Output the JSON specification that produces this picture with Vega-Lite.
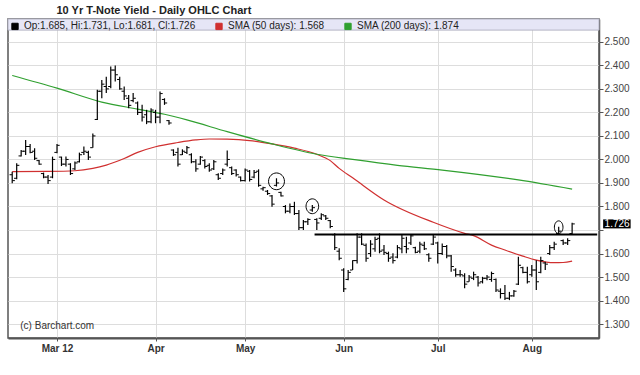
{
  "$schema": "https://vega.github.io/schema/vega-lite/v6.json",
  "width": 591,
  "height": 319,
  "autosize": {"type": "none"},
  "padding": {"left": 8, "top": 19, "right": 41, "bottom": 37},
  "background": "white",
  "title": {"text": "10 Yr T-Note Yield - Daily OHLC Chart", "anchor": "start", "dx": 49, "offset": 3, "fontSize": 11, "font": "Liberation Sans", "fontWeight": "bold", "color": "#222222"},
  "config": {"view": {"stroke": "#555555", "strokeWidth": 1.5}, "font": "Liberation Sans",
    "axis": {"labelOverlap": false, "title": null}},
  "datasets": {
    "band": [{"x1": -0.94, "x2": 131, "y1": 2.5498, "y2": 2.597}],
    "credit": [{"day": 1.8, "value": 1.291, "text": "(c) Barchart.com"}],
    "level": [{"day": 67.5, "day2": 130.6, "value": 1.681}],
    "price": [{"day": 125, "close": 1.726, "label": "1.726"}],
    "notes": [{"id": "A", "day": 59, "value": 1.907}, {"id": "B", "day": 67, "value": 1.801}, {"id": "C", "day": 122, "value": 1.712}],
    "sma": [
      {"day": 0, "series": "SMA (50 days): 1.568", "value": 1.948},
      {"day": 8, "series": "SMA (50 days): 1.568", "value": 1.949},
      {"day": 14, "series": "SMA (50 days): 1.568", "value": 1.952},
      {"day": 18, "series": "SMA (50 days): 1.568", "value": 1.962},
      {"day": 21, "series": "SMA (50 days): 1.568", "value": 1.976},
      {"day": 25, "series": "SMA (50 days): 1.568", "value": 2.004},
      {"day": 28, "series": "SMA (50 days): 1.568", "value": 2.03},
      {"day": 32, "series": "SMA (50 days): 1.568", "value": 2.054},
      {"day": 37, "series": "SMA (50 days): 1.568", "value": 2.072},
      {"day": 41, "series": "SMA (50 days): 1.568", "value": 2.083},
      {"day": 44, "series": "SMA (50 days): 1.568", "value": 2.087},
      {"day": 48, "series": "SMA (50 days): 1.568", "value": 2.086},
      {"day": 53, "series": "SMA (50 days): 1.568", "value": 2.08},
      {"day": 58, "series": "SMA (50 days): 1.568", "value": 2.066},
      {"day": 63, "series": "SMA (50 days): 1.568", "value": 2.048},
      {"day": 68, "series": "SMA (50 days): 1.568", "value": 2.022},
      {"day": 71, "series": "SMA (50 days): 1.568", "value": 1.995},
      {"day": 73, "series": "SMA (50 days): 1.568", "value": 1.962},
      {"day": 76, "series": "SMA (50 days): 1.568", "value": 1.922},
      {"day": 83, "series": "SMA (50 days): 1.568", "value": 1.828},
      {"day": 94, "series": "SMA (50 days): 1.568", "value": 1.733},
      {"day": 101, "series": "SMA (50 days): 1.568", "value": 1.686},
      {"day": 103, "series": "SMA (50 days): 1.568", "value": 1.676},
      {"day": 107, "series": "SMA (50 days): 1.568", "value": 1.636},
      {"day": 110, "series": "SMA (50 days): 1.568", "value": 1.615},
      {"day": 114, "series": "SMA (50 days): 1.568", "value": 1.589},
      {"day": 117, "series": "SMA (50 days): 1.568", "value": 1.572},
      {"day": 121, "series": "SMA (50 days): 1.568", "value": 1.561},
      {"day": 123, "series": "SMA (50 days): 1.568", "value": 1.562},
      {"day": 125, "series": "SMA (50 days): 1.568", "value": 1.568},
      {"day": 0, "series": "SMA (200 days): 1.874", "value": 2.357},
      {"day": 10, "series": "SMA (200 days): 1.874", "value": 2.303},
      {"day": 20, "series": "SMA (200 days): 1.874", "value": 2.244},
      {"day": 28, "series": "SMA (200 days): 1.874", "value": 2.214},
      {"day": 34, "series": "SMA (200 days): 1.874", "value": 2.192},
      {"day": 39, "series": "SMA (200 days): 1.874", "value": 2.168},
      {"day": 48, "series": "SMA (200 days): 1.874", "value": 2.118},
      {"day": 58, "series": "SMA (200 days): 1.874", "value": 2.066},
      {"day": 68, "series": "SMA (200 days): 1.874", "value": 2.022},
      {"day": 76, "series": "SMA (200 days): 1.874", "value": 2.0},
      {"day": 86, "series": "SMA (200 days): 1.874", "value": 1.975},
      {"day": 96, "series": "SMA (200 days): 1.874", "value": 1.955},
      {"day": 113, "series": "SMA (200 days): 1.874", "value": 1.913},
      {"day": 125, "series": "SMA (200 days): 1.874", "value": 1.874}
    ],
    "ohlc": [
      {"date": "2012-02-15", "day": 0, "open": 1.935, "high": 1.948, "low": 1.899, "close": 1.91},
      {"date": "2012-02-16", "day": 1, "open": 1.92, "high": 1.984, "low": 1.916, "close": 1.975},
      {"date": "2012-02-17", "day": 2, "open": 2.015, "high": 2.04, "low": 2.012, "close": 2.035},
      {"date": "2012-02-21", "day": 3, "open": 2.035, "high": 2.083, "low": 2.019, "close": 2.055},
      {"date": "2012-02-22", "day": 4, "open": 2.055, "high": 2.066, "low": 2.026, "close": 2.03},
      {"date": "2012-02-23", "day": 5, "open": 2.035, "high": 2.048, "low": 1.998, "close": 2.005},
      {"date": "2012-02-24", "day": 6, "open": 1.995, "high": 1.998, "low": 1.977, "close": 1.98},
      {"date": "2012-02-27", "day": 7, "open": 1.94, "high": 1.944, "low": 1.92, "close": 1.925},
      {"date": "2012-02-28", "day": 8, "open": 1.925, "high": 1.934, "low": 1.896, "close": 1.91},
      {"date": "2012-02-29", "day": 9, "open": 1.925, "high": 2.012, "low": 1.92, "close": 2.0},
      {"date": "2012-03-01", "day": 10, "open": 2.03, "high": 2.066, "low": 2.026, "close": 2.06},
      {"date": "2012-03-02", "day": 11, "open": 2.01, "high": 2.012, "low": 1.972, "close": 1.98},
      {"date": "2012-03-05", "day": 12, "open": 1.98, "high": 2.012, "low": 1.97, "close": 2.0},
      {"date": "2012-03-06", "day": 13, "open": 1.98, "high": 1.984, "low": 1.934, "close": 1.94},
      {"date": "2012-03-07", "day": 14, "open": 1.96, "high": 1.991, "low": 1.955, "close": 1.985},
      {"date": "2012-03-08", "day": 15, "open": 1.99, "high": 2.029, "low": 1.987, "close": 2.02},
      {"date": "2012-03-09", "day": 16, "open": 2.03, "high": 2.055, "low": 2.019, "close": 2.035},
      {"date": "2012-03-12", "day": 17, "open": 2.03, "high": 2.037, "low": 1.998, "close": 2.01},
      {"date": "2012-03-13", "day": 18, "open": 2.05, "high": 2.11, "low": 2.05, "close": 2.1},
      {"date": "2012-03-14", "day": 19, "open": 2.17, "high": 2.296, "low": 2.168, "close": 2.29},
      {"date": "2012-03-15", "day": 20, "open": 2.29, "high": 2.338, "low": 2.26, "close": 2.32},
      {"date": "2012-03-16", "day": 21, "open": 2.31, "high": 2.352, "low": 2.282, "close": 2.3},
      {"date": "2012-03-19", "day": 22, "open": 2.31, "high": 2.395, "low": 2.303, "close": 2.38},
      {"date": "2012-03-20", "day": 23, "open": 2.38, "high": 2.399, "low": 2.331, "close": 2.36},
      {"date": "2012-03-21", "day": 24, "open": 2.34, "high": 2.352, "low": 2.296, "close": 2.3},
      {"date": "2012-03-22", "day": 25, "open": 2.29, "high": 2.31, "low": 2.253, "close": 2.27},
      {"date": "2012-03-23", "day": 26, "open": 2.26, "high": 2.274, "low": 2.218, "close": 2.23},
      {"date": "2012-03-26", "day": 27, "open": 2.25, "high": 2.282, "low": 2.243, "close": 2.26},
      {"date": "2012-03-27", "day": 28, "open": 2.24, "high": 2.246, "low": 2.189, "close": 2.2},
      {"date": "2012-03-28", "day": 29, "open": 2.2, "high": 2.232, "low": 2.161, "close": 2.18},
      {"date": "2012-03-29", "day": 30, "open": 2.19, "high": 2.211, "low": 2.15, "close": 2.16},
      {"date": "2012-03-30", "day": 31, "open": 2.16, "high": 2.218, "low": 2.154, "close": 2.21},
      {"date": "2012-04-02", "day": 32, "open": 2.2, "high": 2.211, "low": 2.154, "close": 2.18},
      {"date": "2012-04-03", "day": 33, "open": 2.18, "high": 2.289, "low": 2.154, "close": 2.28},
      {"date": "2012-04-04", "day": 34, "open": 2.255, "high": 2.26, "low": 2.232, "close": 2.24},
      {"date": "2012-04-05", "day": 35, "open": 2.165, "high": 2.168, "low": 2.147, "close": 2.155},
      {"date": "2012-04-09", "day": 36, "open": 2.04, "high": 2.043, "low": 2.015, "close": 2.02},
      {"date": "2012-04-10", "day": 37, "open": 2.03, "high": 2.05, "low": 1.97, "close": 1.98},
      {"date": "2012-04-11", "day": 38, "open": 2.02, "high": 2.043, "low": 2.019, "close": 2.035},
      {"date": "2012-04-12", "day": 39, "open": 2.03, "high": 2.057, "low": 2.023, "close": 2.05},
      {"date": "2012-04-13", "day": 40, "open": 2.02, "high": 2.026, "low": 1.984, "close": 1.99},
      {"date": "2012-04-16", "day": 41, "open": 1.99, "high": 2.001, "low": 1.948, "close": 1.96},
      {"date": "2012-04-17", "day": 42, "open": 1.98, "high": 2.015, "low": 1.977, "close": 2.01},
      {"date": "2012-04-18", "day": 43, "open": 1.995, "high": 2.001, "low": 1.962, "close": 1.97},
      {"date": "2012-04-19", "day": 44, "open": 1.975, "high": 1.984, "low": 1.948, "close": 1.955},
      {"date": "2012-04-20", "day": 45, "open": 1.96, "high": 1.998, "low": 1.955, "close": 1.99},
      {"date": "2012-04-23", "day": 46, "open": 1.935, "high": 1.941, "low": 1.913, "close": 1.92},
      {"date": "2012-04-24", "day": 47, "open": 1.94, "high": 1.962, "low": 1.934, "close": 1.955},
      {"date": "2012-04-25", "day": 48, "open": 1.98, "high": 2.038, "low": 1.97, "close": 2.0},
      {"date": "2012-04-26", "day": 49, "open": 1.965, "high": 1.97, "low": 1.934, "close": 1.94},
      {"date": "2012-04-27", "day": 50, "open": 1.955, "high": 1.958, "low": 1.927, "close": 1.935},
      {"date": "2012-04-30", "day": 51, "open": 1.925, "high": 1.927, "low": 1.906, "close": 1.91},
      {"date": "2012-05-01", "day": 52, "open": 1.91, "high": 1.962, "low": 1.906, "close": 1.955},
      {"date": "2012-05-02", "day": 53, "open": 1.95, "high": 1.955, "low": 1.906, "close": 1.915},
      {"date": "2012-05-03", "day": 54, "open": 1.925, "high": 1.955, "low": 1.92, "close": 1.945},
      {"date": "2012-05-04", "day": 55, "open": 1.95, "high": 1.958, "low": 1.884, "close": 1.89},
      {"date": "2012-05-07", "day": 56, "open": 1.875, "high": 1.884, "low": 1.867, "close": 1.88},
      {"date": "2012-05-08", "day": 57, "open": 1.865, "high": 1.87, "low": 1.849, "close": 1.855},
      {"date": "2012-05-09", "day": 58, "open": 1.845, "high": 1.849, "low": 1.799, "close": 1.81},
      {"date": "2012-05-10", "day": 59, "open": 1.89, "high": 1.92, "low": 1.885, "close": 1.9},
      {"date": "2012-05-11", "day": 60, "open": 1.86, "high": 1.863, "low": 1.842, "close": 1.845},
      {"date": "2012-05-14", "day": 61, "open": 1.8, "high": 1.806, "low": 1.771, "close": 1.78},
      {"date": "2012-05-15", "day": 62, "open": 1.78, "high": 1.813, "low": 1.771, "close": 1.8},
      {"date": "2012-05-16", "day": 63, "open": 1.8, "high": 1.82, "low": 1.764, "close": 1.77},
      {"date": "2012-05-17", "day": 64, "open": 1.77, "high": 1.785, "low": 1.7, "close": 1.71},
      {"date": "2012-05-18", "day": 65, "open": 1.71, "high": 1.743, "low": 1.7, "close": 1.735},
      {"date": "2012-05-21", "day": 66, "open": 1.735, "high": 1.75, "low": 1.721, "close": 1.745},
      {"date": "2012-05-22", "day": 67, "open": 1.785, "high": 1.806, "low": 1.778, "close": 1.795},
      {"date": "2012-05-23", "day": 68, "open": 1.745, "high": 1.75, "low": 1.7, "close": 1.73},
      {"date": "2012-05-24", "day": 69, "open": 1.75, "high": 1.771, "low": 1.743, "close": 1.765},
      {"date": "2012-05-25", "day": 70, "open": 1.76, "high": 1.764, "low": 1.743, "close": 1.75},
      {"date": "2012-05-29", "day": 71, "open": 1.74, "high": 1.743, "low": 1.707, "close": 1.715},
      {"date": "2012-05-30", "day": 72, "open": 1.68, "high": 1.686, "low": 1.615, "close": 1.625},
      {"date": "2012-05-31", "day": 73, "open": 1.61, "high": 1.622, "low": 1.572, "close": 1.58},
      {"date": "2012-06-01", "day": 74, "open": 1.53, "high": 1.537, "low": 1.437, "close": 1.45},
      {"date": "2012-06-04", "day": 75, "open": 1.49, "high": 1.53, "low": 1.487, "close": 1.52},
      {"date": "2012-06-05", "day": 76, "open": 1.53, "high": 1.572, "low": 1.53, "close": 1.57},
      {"date": "2012-06-06", "day": 77, "open": 1.57, "high": 1.686, "low": 1.558, "close": 1.67},
      {"date": "2012-06-07", "day": 78, "open": 1.67, "high": 1.686, "low": 1.636, "close": 1.64},
      {"date": "2012-06-08", "day": 79, "open": 1.635, "high": 1.643, "low": 1.565, "close": 1.58},
      {"date": "2012-06-11", "day": 80, "open": 1.6, "high": 1.657, "low": 1.586, "close": 1.64},
      {"date": "2012-06-12", "day": 81, "open": 1.62, "high": 1.671, "low": 1.608, "close": 1.66},
      {"date": "2012-06-13", "day": 82, "open": 1.665, "high": 1.686, "low": 1.601, "close": 1.61},
      {"date": "2012-06-14", "day": 83, "open": 1.615, "high": 1.636, "low": 1.594, "close": 1.605},
      {"date": "2012-06-15", "day": 84, "open": 1.6, "high": 1.608, "low": 1.565, "close": 1.58},
      {"date": "2012-06-18", "day": 85, "open": 1.585, "high": 1.601, "low": 1.558, "close": 1.57},
      {"date": "2012-06-19", "day": 86, "open": 1.585, "high": 1.636, "low": 1.58, "close": 1.625},
      {"date": "2012-06-20", "day": 87, "open": 1.62, "high": 1.679, "low": 1.601, "close": 1.665},
      {"date": "2012-06-21", "day": 88, "open": 1.63, "high": 1.671, "low": 1.601, "close": 1.62},
      {"date": "2012-06-22", "day": 89, "open": 1.645, "high": 1.679, "low": 1.636, "close": 1.675},
      {"date": "2012-06-25", "day": 90, "open": 1.625, "high": 1.629, "low": 1.601, "close": 1.605},
      {"date": "2012-06-26", "day": 91, "open": 1.61, "high": 1.65, "low": 1.601, "close": 1.64},
      {"date": "2012-06-27", "day": 92, "open": 1.635, "high": 1.65, "low": 1.615, "close": 1.62},
      {"date": "2012-06-28", "day": 93, "open": 1.595, "high": 1.601, "low": 1.565, "close": 1.58},
      {"date": "2012-06-29", "day": 94, "open": 1.64, "high": 1.679, "low": 1.636, "close": 1.67},
      {"date": "2012-07-02", "day": 95, "open": 1.645, "high": 1.65, "low": 1.558, "close": 1.6},
      {"date": "2012-07-03", "day": 96, "open": 1.6, "high": 1.643, "low": 1.594, "close": 1.63},
      {"date": "2012-07-05", "day": 97, "open": 1.63, "high": 1.636, "low": 1.58, "close": 1.59},
      {"date": "2012-07-06", "day": 98, "open": 1.59, "high": 1.594, "low": 1.523, "close": 1.545},
      {"date": "2012-07-09", "day": 99, "open": 1.53, "high": 1.537, "low": 1.501, "close": 1.51},
      {"date": "2012-07-10", "day": 100, "open": 1.51, "high": 1.53, "low": 1.501, "close": 1.51},
      {"date": "2012-07-11", "day": 101, "open": 1.505, "high": 1.516, "low": 1.452, "close": 1.47},
      {"date": "2012-07-12", "day": 102, "open": 1.48, "high": 1.509, "low": 1.48, "close": 1.5},
      {"date": "2012-07-13", "day": 103, "open": 1.495, "high": 1.523, "low": 1.487, "close": 1.51},
      {"date": "2012-07-16", "day": 104, "open": 1.5, "high": 1.505, "low": 1.46, "close": 1.475},
      {"date": "2012-07-17", "day": 105, "open": 1.48, "high": 1.501, "low": 1.473, "close": 1.495},
      {"date": "2012-07-18", "day": 106, "open": 1.495, "high": 1.509, "low": 1.487, "close": 1.5},
      {"date": "2012-07-19", "day": 107, "open": 1.49, "high": 1.523, "low": 1.48, "close": 1.515},
      {"date": "2012-07-20", "day": 108, "open": 1.49, "high": 1.494, "low": 1.437, "close": 1.445},
      {"date": "2012-07-23", "day": 109, "open": 1.44, "high": 1.452, "low": 1.409, "close": 1.43},
      {"date": "2012-07-24", "day": 110, "open": 1.43, "high": 1.466, "low": 1.402, "close": 1.41},
      {"date": "2012-07-25", "day": 111, "open": 1.41, "high": 1.437, "low": 1.402, "close": 1.42},
      {"date": "2012-07-26", "day": 112, "open": 1.42, "high": 1.445, "low": 1.416, "close": 1.44},
      {"date": "2012-07-27", "day": 113, "open": 1.47, "high": 1.586, "low": 1.466, "close": 1.55},
      {"date": "2012-07-30", "day": 114, "open": 1.54, "high": 1.544, "low": 1.516, "close": 1.52},
      {"date": "2012-07-31", "day": 115, "open": 1.52, "high": 1.544, "low": 1.473, "close": 1.48},
      {"date": "2012-08-01", "day": 116, "open": 1.51, "high": 1.551, "low": 1.501, "close": 1.53},
      {"date": "2012-08-02", "day": 117, "open": 1.53, "high": 1.572, "low": 1.445, "close": 1.48},
      {"date": "2012-08-03", "day": 118, "open": 1.52, "high": 1.586, "low": 1.516, "close": 1.57},
      {"date": "2012-08-06", "day": 119, "open": 1.56, "high": 1.565, "low": 1.53, "close": 1.555},
      {"date": "2012-08-07", "day": 120, "open": 1.6, "high": 1.636, "low": 1.594, "close": 1.625},
      {"date": "2012-08-08", "day": 121, "open": 1.625, "high": 1.65, "low": 1.615, "close": 1.64},
      {"date": "2012-08-09", "day": 122, "open": 1.685, "high": 1.714, "low": 1.679, "close": 1.695},
      {"date": "2012-08-10", "day": 123, "open": 1.655, "high": 1.66, "low": 1.636, "close": 1.645},
      {"date": "2012-08-13", "day": 124, "open": 1.645, "high": 1.665, "low": 1.636, "close": 1.655},
      {"date": "2012-08-14", "day": 125, "open": 1.685, "high": 1.731, "low": 1.681, "close": 1.726}
    ]
  },
  "layer": [
    {
      "data": {"name": "band"},
      "mark": {"type": "rect", "fill": "#e6e6f6", "stroke": "#b4b4c4", "strokeWidth": 1},
      "encoding": {
        "x": {"field": "x1", "type": "quantitative", "scale": {"domain": [-0.94, 131], "nice": false, "zero": false},
          "axis": {"title": null, "values": [10, 32, 52, 74, 95, 116], "tickCount": 20,
            "labelExpr": "datum.value == 10 ? 'Mar 12' : datum.value == 32 ? 'Apr' : datum.value == 52 ? 'May' : datum.value == 74 ? 'Jun' : datum.value == 95 ? 'Jul' : 'Aug'",
            "labelFont": "Liberation Sans", "labelFontSize": 10, "labelFontWeight": "bold", "labelColor": "#333333", "labelPadding": 2,
            "tickSize": 3, "tickColor": "#555555", "domainColor": "#555555", "domainWidth": 2, "labelOverlap": false,
            "grid": true, "gridColor": "#dddddd", "gridWidth": 1, "labelFlush": false}},
        "x2": {"field": "x2"},
        "y": {"field": "y1", "type": "quantitative", "scale": {"domain": [1.241, 2.597], "nice": false, "zero": false},
          "axis": {"title": null, "orient": "right", "values": [1.3, 1.4, 1.5, 1.6, 1.7, 1.8, 1.9, 2.0, 2.1, 2.2, 2.3, 2.4, 2.5], "tickCount": 30, "format": ".3f",
            "labelExpr": "datum.value == 1.7 ? '' : datum.label", "labelOverlap": false,
            "labelFont": "Liberation Sans", "labelFontSize": 10, "labelColor": "#444444", "labelPadding": 1,
            "tickSize": 4, "tickColor": "#555555", "domainColor": "#555555", "domainWidth": 1.5,
            "grid": true, "gridColor": "#dddddd", "gridWidth": 1, "labelFlush": false}},
        "y2": {"field": "y2"}
      }
    },
    {
      "data": {"name": "sma"},
      "mark": {"type": "line", "interpolate": "monotone", "strokeWidth": 1.2},
      "encoding": {
        "x": {"field": "day", "type": "quantitative", "axis": {"title": null}},
        "y": {"field": "value", "type": "quantitative", "axis": {"title": null}},
        "color": {"field": "series", "type": "nominal",
          "scale": {"domain": ["Op:1.685, Hi:1.731, Lo:1.681, Cl:1.726", "SMA (50 days): 1.568", "SMA (200 days): 1.874"], "range": ["#000000", "#d03030", "#30a030"]},
          "legend": {"orient": "none", "legendX": 2, "legendY": 2, "direction": "horizontal", "title": null,
            "symbolType": "square", "symbolSize": 40, "symbolStrokeWidth": 1, "symbolStrokeColor": "#222222",
            "labelFont": "Liberation Sans", "labelFontSize": 10, "labelColor": "#222222", "labelOffset": 4, "labelLimit": 400,
            "columnPadding": 17, "padding": 0,
            "encode": {"symbols": {"update": {"fill": {"scale": "color", "field": "value"}, "fillOpacity": {"value": 1}}}}}}
      }
    },
    {
      "data": {"name": "level"},
      "mark": {"type": "rule", "color": "#000000", "strokeWidth": 2},
      "encoding": {
        "x": {"field": "day", "type": "quantitative", "axis": {"title": null}},
        "x2": {"field": "day2"},
        "y": {"field": "value", "type": "quantitative", "axis": {"title": null}}
      }
    },
    {
      "data": {"name": "ohlc"},
      "mark": {"type": "rule", "color": "#000000", "strokeWidth": 1.2},
      "encoding": {
        "x": {"field": "day", "type": "quantitative", "axis": {"title": null}},
        "y": {"field": "low", "type": "quantitative", "axis": {"title": null}},
        "y2": {"field": "high"}
      }
    },
    {
      "data": {"name": "ohlc"},
      "mark": {"type": "tick", "orient": "horizontal", "color": "#000000", "size": 2.5, "thickness": 1, "xOffset": -1.4, "opacity": 1},
      "encoding": {
        "x": {"field": "day", "type": "quantitative", "axis": {"title": null}},
        "y": {"field": "open", "type": "quantitative", "axis": {"title": null}}
      }
    },
    {
      "data": {"name": "ohlc"},
      "mark": {"type": "tick", "orient": "horizontal", "color": "#000000", "size": 2.5, "thickness": 1, "xOffset": 1.4, "opacity": 1},
      "encoding": {
        "x": {"field": "day", "type": "quantitative", "axis": {"title": null}},
        "y": {"field": "close", "type": "quantitative", "axis": {"title": null}}
      }
    },
    {
      "data": {"name": "notes"},
      "mark": {"type": "point", "filled": false, "stroke": "#000000", "strokeWidth": 1, "opacity": 1},
      "encoding": {
        "x": {"field": "day", "type": "quantitative", "axis": {"title": null}},
        "y": {"field": "value", "type": "quantitative", "axis": {"title": null}},
        "shape": {"field": "id", "type": "nominal", "legend": null,
          "scale": {"domain": ["A", "B", "C"], "range": [
            "M 0 -1 C 0.525 -1 0.95 -0.552 0.95 0 C 0.95 0.552 0.525 1 0 1 C -0.525 1 -0.95 0.552 -0.95 0 C -0.95 -0.552 -0.525 -1 0 -1 Z",
            "M 0 -1 C 0.469 -1 0.85 -0.552 0.85 0 C 0.85 0.552 0.469 1 0 1 C -0.469 1 -0.85 0.552 -0.85 0 C -0.85 -0.552 -0.469 -1 0 -1 Z",
            "M 0 -1 C 0.376 -1 0.68 -0.552 0.68 0 C 0.68 0.552 0.376 1 0 1 C -0.376 1 -0.68 0.552 -0.68 0 C -0.68 -0.552 -0.376 -1 0 -1 Z"]}},
        "size": {"field": "id", "type": "nominal", "legend": null,
          "scale": {"domain": ["A", "B", "C"], "range": [280, 160, 280]}}
      }
    },
    {
      "data": {"name": "price"},
      "mark": {"type": "rect", "fill": "#000000", "xOffset": 31, "x2Offset": 58.5, "yOffset": -4.5, "y2Offset": 4.5},
      "encoding": {
        "x": {"field": "day", "type": "quantitative", "axis": {"title": null}},
        "x2": {"field": "day"},
        "y": {"field": "close", "type": "quantitative", "axis": {"title": null}},
        "y2": {"field": "close"}
      }
    },
    {
      "data": {"name": "price"},
      "mark": {"type": "text", "color": "#ffffff", "align": "left", "baseline": "middle", "dx": 32.5, "dy": 0.5, "font": "Liberation Sans", "fontSize": 10},
      "encoding": {
        "x": {"field": "day", "type": "quantitative", "axis": {"title": null}},
        "y": {"field": "close", "type": "quantitative", "axis": {"title": null}},
        "text": {"field": "label"}
      }
    },
    {
      "data": {"name": "credit"},
      "mark": {"type": "text", "color": "#333333", "align": "left", "baseline": "middle", "font": "Liberation Sans", "fontSize": 10},
      "encoding": {
        "x": {"field": "day", "type": "quantitative", "axis": {"title": null}},
        "y": {"field": "value", "type": "quantitative", "axis": {"title": null}},
        "text": {"field": "text"}
      }
    }
  ]
}
